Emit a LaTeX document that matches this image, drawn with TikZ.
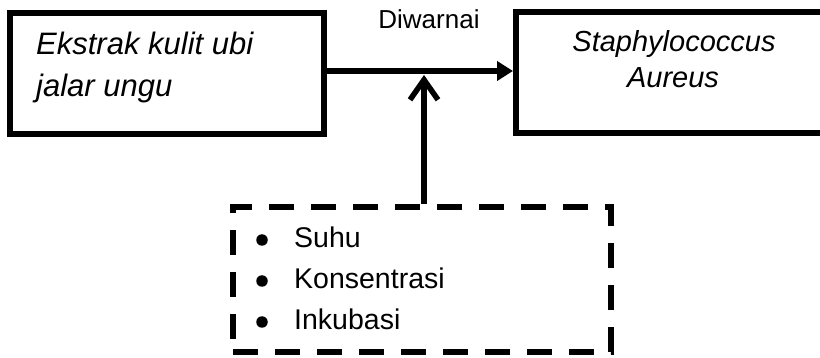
\documentclass[tikz,border=0pt]{standalone}
\usepackage{fontspec}
\setmainfont{Liberation Sans}
\usetikzlibrary{arrows.meta}
\begin{document}
\begin{tikzpicture}[x=1pt,y=-1pt,
  box/.style={draw,line width=6pt,minimum width=314pt,minimum height=121pt,inner sep=0pt},
  dashbox/.style={draw,line width=6pt,dash pattern=on 25pt off 17pt,minimum width=378pt,minimum height=145pt,inner sep=0pt},
  boxtext/.style={inner sep=0pt,font=\fontsize{31pt}{37pt}\selectfont\itshape},
  listtext/.style={inner sep=0pt,anchor=base west,font=\fontsize{28.5pt}{34pt}\selectfont},
  bul/.style={circle,fill,inner sep=0pt,minimum size=11.5pt},
  conn/.style={line width=5.5pt},
]
\useasboundingbox (0,0) rectangle (820,358);
\clip (0,0) rectangle (820,358);
\node[box] (src) at (167,73.5) {};
\node[box] (dst) at (673,73) {};
\node[boxtext,anchor=base west] (src1) at (36,55) {Ekstrak kulit ubi};
\node[boxtext,anchor=base west] (src2) at (36,97) {jalar ungu};
\node[boxtext,font=\fontsize{29pt}{35pt}\selectfont\itshape,anchor=base] (dst1) at (674,52) {Staphylococcus};
\node[boxtext,font=\fontsize{29pt}{35pt}\selectfont\itshape,anchor=base] (dst2) at (673,88) {Aureus};
\node[inner sep=0pt,anchor=base,font=\fontsize{26pt}{31pt}\selectfont] (lab) at (429,29) {Diwarnai};
\node[dashbox] (vars) at (422,279.5) {};
\node[bul] (b1) at (262,240) {};
\node[bul] (b2) at (262,281) {};
\node[bul] (b3) at (262,322) {};
\node[listtext] (t1) at (294,248) {Suhu};
\node[listtext] (t2) at (294,289) {Konsentrasi};
\node[listtext] (t3) at (294,330) {Inkubasi};
\coordinate (join) at (424,75);
\draw[conn,-{Triangle[length=16pt,width=19pt]}] ([yshift=2.5pt]src.east) -- ([yshift=2pt]dst.west);
\draw[conn,-{Straight Barb[length=20pt,width=28pt]}] ([xshift=2pt]vars.north) -- (join);
\end{tikzpicture}
\end{document}
